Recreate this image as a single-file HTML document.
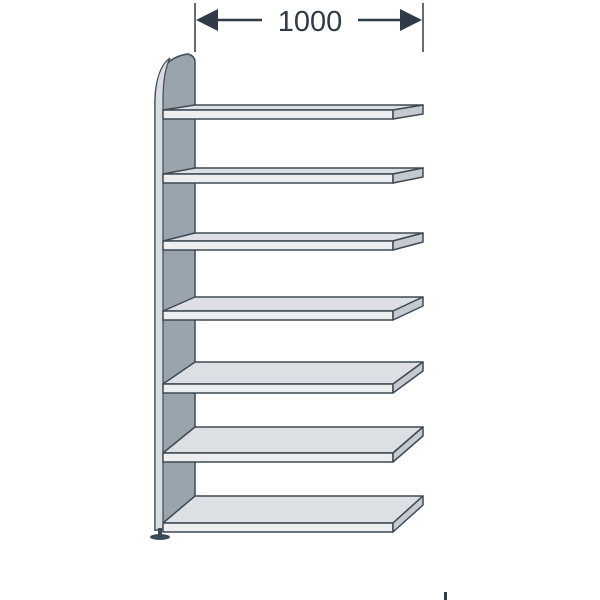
<!DOCTYPE html>
<html><head><style>body{margin:0;background:#fff}svg{display:block}</style></head><body>
<svg width="600" height="600" viewBox="0 0 600 600" xmlns="http://www.w3.org/2000/svg">
<g stroke="#2f3b46" stroke-width="1.5">
<line x1="195" y1="3" x2="195" y2="52"/><line x1="423" y1="3" x2="423" y2="52"/>
<line x1="212" y1="20" x2="262" y2="20" stroke-width="2.5"/><line x1="358" y1="20" x2="406" y2="20" stroke-width="2.5"/>
</g>
<polygon points="196,20 218,9 218,31" fill="#2f3b46"/>
<polygon points="422,20 400,9 400,31" fill="#2f3b46"/>
<text x="310" y="31" font-family="Liberation Sans, sans-serif" font-size="29" text-anchor="middle" fill="#2f3b46">1000</text>
<path d="M155,530 L155,100 Q156,58 188,54 Q195,56 195,62 L195,530 Z" fill="#9aa4ad" stroke="#3d4a55" stroke-width="1.5"/>
<path d="M155,530 L155,100 Q156,68 170,58 Q163,72 163,100 L163,530 Z" fill="#d8dce0" stroke="#3d4a55" stroke-width="1.2"/>
<ellipse cx="160" cy="537" rx="10" ry="3" fill="#3d4a55"/>
<rect x="158" y="528" width="4" height="8" fill="#3d4a55"/>
<g stroke="#3d4a55" stroke-width="1.5" stroke-linejoin="round">
<polygon points="195,105 423,105 393,110 163,110" fill="#dcdfe3"/><polygon points="163,110 393,110 393,119 163,119" fill="#eceef0"/><polygon points="393,110 423,105 423,114 393,119" fill="#c5cad0"/>
<polygon points="195,168 423,168 393,174 163,174" fill="#dcdfe3"/><polygon points="163,174 393,174 393,183 163,183" fill="#eceef0"/><polygon points="393,174 423,168 423,177 393,183" fill="#c5cad0"/>
<polygon points="195,233 423,233 393,241 163,241" fill="#dcdfe3"/><polygon points="163,241 393,241 393,250 163,250" fill="#eceef0"/><polygon points="393,241 423,233 423,242 393,250" fill="#c5cad0"/>
<polygon points="195,297 423,297 393,311 163,311" fill="#dcdfe3"/><polygon points="163,311 393,311 393,320 163,320" fill="#eceef0"/><polygon points="393,311 423,297 423,306 393,320" fill="#c5cad0"/>
<polygon points="195,362 423,362 393,384 163,384" fill="#dcdfe3"/><polygon points="163,384 393,384 393,393 163,393" fill="#eceef0"/><polygon points="393,384 423,362 423,371 393,393" fill="#c5cad0"/>
<polygon points="195,427 423,427 393,453 163,453" fill="#dcdfe3"/><polygon points="163,453 393,453 393,462 163,462" fill="#eceef0"/><polygon points="393,453 423,427 423,436 393,462" fill="#c5cad0"/>
<polygon points="195,496 423,496 393,523 163,523" fill="#dcdfe3"/><polygon points="163,523 393,523 393,532 163,532" fill="#eceef0"/><polygon points="393,523 423,496 423,505 393,532" fill="#c5cad0"/>
</g>
<rect x="444" y="592" width="3" height="8" fill="#2f3b46"/>
</svg>
</body></html>
